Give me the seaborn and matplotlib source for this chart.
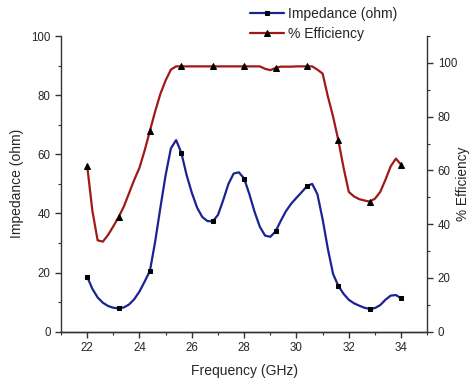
import numpy as np
import pandas as pd
import matplotlib
matplotlib.use("Agg")
import matplotlib.pyplot as plt
import seaborn as sns
from matplotlib.ticker import MultipleLocator

# Frequency grid (GHz)
freq = [22.0, 22.2, 22.4, 22.6, 22.8, 23.0, 23.2, 23.4, 23.6, 23.8,
        24.0, 24.2, 24.4, 24.6, 24.8, 25.0, 25.2, 25.4, 25.6, 25.8,
        26.0, 26.2, 26.4, 26.6, 26.8, 27.0, 27.2, 27.4, 27.6, 27.8,
        28.0, 28.2, 28.4, 28.6, 28.8, 29.0, 29.2, 29.4, 29.6, 29.8,
        30.0, 30.2, 30.4, 30.6, 30.8, 31.0, 31.2, 31.4, 31.6, 31.8,
        32.0, 32.2, 32.4, 32.6, 32.8, 33.0, 33.2, 33.4, 33.6, 33.8, 34.0]

impedance = [18.6, 14.5, 11.6, 9.8, 8.7, 8.1, 7.9, 8.2, 9.2, 11.0,
             13.6, 17.0, 20.6, 30.5, 42.0, 53.0, 62.0, 64.8, 60.5, 53.0,
             47.0, 42.0, 38.8, 37.4, 37.3, 39.5, 44.5, 50.0, 53.5, 53.9,
             51.8, 46.5, 40.5, 35.5, 32.5, 32.1, 33.9, 37.5, 40.8, 43.3,
             45.3, 47.2, 49.2, 50.0, 46.5, 38.0, 28.0, 19.5, 15.5, 12.8,
             10.8, 9.6, 8.8, 8.1, 7.7, 8.0, 9.0, 10.8, 12.2, 12.4, 11.3]

efficiency = [61.8, 45.0, 34.0, 33.5, 36.0, 39.2, 42.6, 46.5, 51.5, 56.5,
              61.0, 67.5, 74.8, 82.0, 88.5, 93.5, 97.5, 98.7, 98.7, 98.7,
              98.7, 98.7, 98.7, 98.7, 98.7, 98.7, 98.7, 98.7, 98.7, 98.7,
              98.7, 98.7, 98.7, 98.7, 97.8, 97.3, 98.1, 98.6, 98.6, 98.6,
              98.7, 98.7, 98.7, 98.7, 97.5, 96.0, 87.5, 80.0, 71.2, 61.0,
              52.0, 50.3, 49.3, 48.8, 48.4, 49.5, 52.0, 56.5, 61.5, 64.4, 62.1]

df = pd.DataFrame({"freq": freq, "imp": impedance, "eff": efficiency})

sns.set_style("ticks")
plt.rcParams["font.family"] = ["Liberation Sans", "DejaVu Sans"]
plt.rcParams["xtick.direction"] = "out"
plt.rcParams["ytick.direction"] = "out"

fig = plt.figure(figsize=(4.72, 3.83), dpi=100)
ax = fig.add_axes([0.1292, 0.1339, 0.9053 - 0.1292, 0.906 - 0.1339])
ax2 = ax.twinx()

blue = "#1a2394"
red = "#a01818"

sns.lineplot(data=df, x="freq", y="imp", ax=ax, color=blue, lw=1.6,
             marker="s", markevery=6, markersize=3.4,
             markerfacecolor="black", markeredgecolor="black",
             label="Impedance (ohm)", legend=False)
sns.lineplot(data=df, x="freq", y="eff", ax=ax2, color=red, lw=1.6,
             marker="^", markevery=6, markersize=3.8,
             markerfacecolor="black", markeredgecolor="black",
             label="% Efficiency", legend=False)

ax.set_xlim(21, 35)
ax.set_ylim(0, 100)
ax2.set_ylim(0, 110)

ax.set_xticks([22, 24, 26, 28, 30, 32, 34])
ax.xaxis.set_minor_locator(MultipleLocator(1))
ax.set_yticks([0, 20, 40, 60, 80, 100])
ax.yaxis.set_minor_locator(MultipleLocator(10))
ax2.set_yticks([0, 20, 40, 60, 80, 100])
ax2.yaxis.set_minor_locator(MultipleLocator(10))

for a in (ax, ax2):
    a.spines["top"].set_visible(False)
    for s in a.spines.values():
        s.set_linewidth(1.0)
        s.set_color("#333333")
    a.tick_params(which="major", length=4.5, width=1.0, labelsize=8.3, color="#333333", pad=3)
    a.tick_params(which="minor", length=2.5, width=0.8, color="#333333")
ax.spines["right"].set_visible(False)
ax2.spines["left"].set_visible(False)

ax.set_xlabel("Frequency (GHz)", fontsize=10, labelpad=7)
ax.set_ylabel("Impedance (ohm)", fontsize=10, labelpad=5)
ax2.set_ylabel("% Efficiency", fontsize=9.8, labelpad=-0.5)

h1, l1 = ax.get_legend_handles_labels()
h2, l2 = ax2.get_legend_handles_labels()
fig.legend(h1 + h2, l1 + l2, loc="upper left", bbox_to_anchor=(242 / 472, 1.003),
           frameon=False, fontsize=10, handlelength=2.4, handletextpad=0.3,
           labelspacing=0.42, borderaxespad=0.2)

fig.savefig("out.png", dpi=100)
